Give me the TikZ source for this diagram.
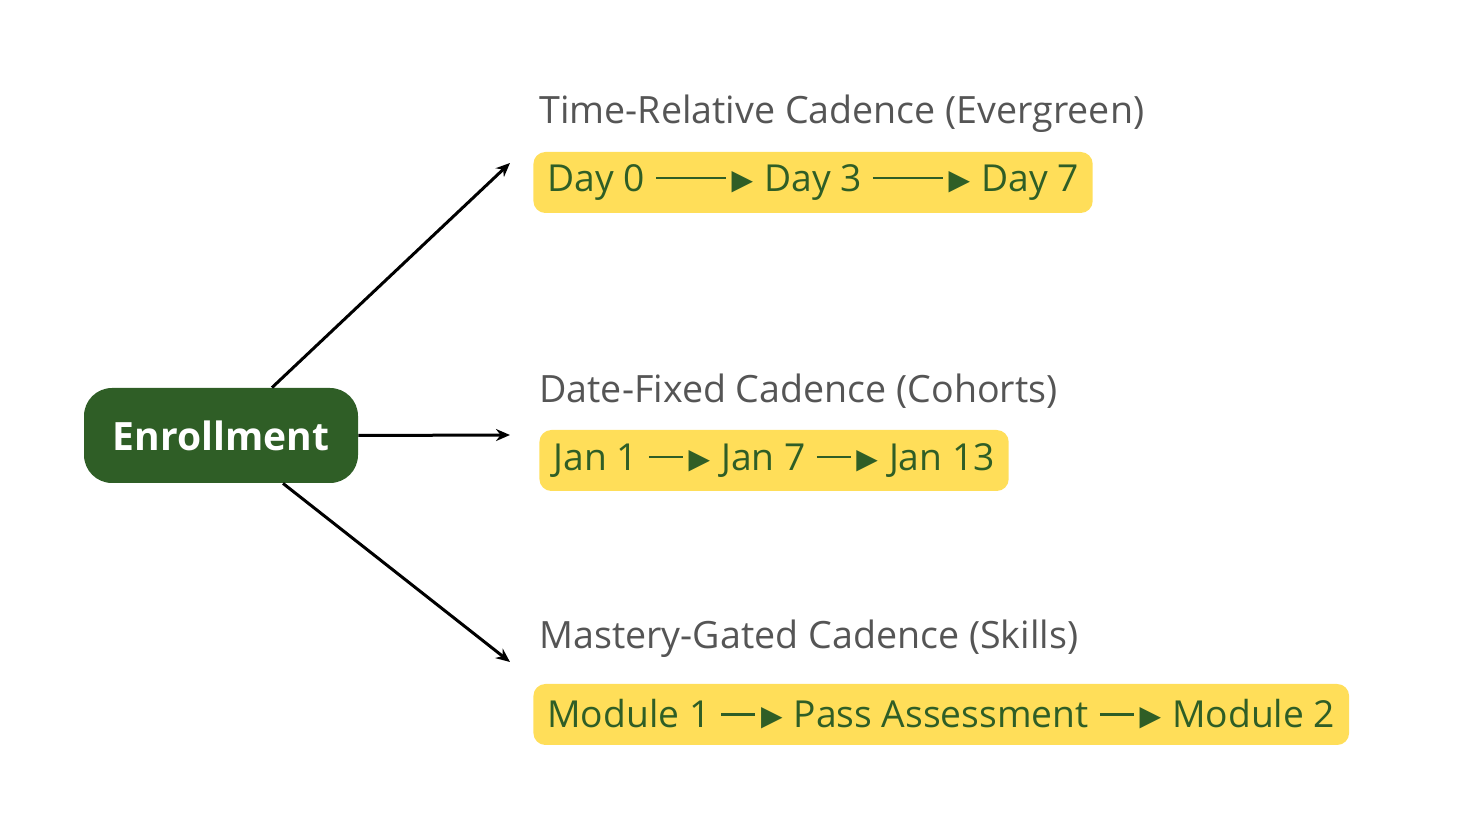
\documentclass[tikz,border=0pt]{standalone}
\usepackage{fontspec}
\usetikzlibrary{arrows.meta}
\setmainfont{Open Sans}
\newfontfamily\dej{DejaVu Sans}
\definecolor{dg}{HTML}{2F5E26}
\definecolor{yl}{HTML}{FFDE59}
\definecolor{tg}{HTML}{555555}
\newcommand\myarr[1]{\hspace{0.3em}\textcolor{dg}{\rule[0.33em]{#1}{0.06em}\hspace{0.15em}\raisebox{0.05em}{\dej\fontsize{14}{14}\selectfont ▶}}\hspace{0.3em}}
\begin{document}
\begin{tikzpicture}[x=0.5pt,y=-0.5pt,
  box/.style={fill=yl,rounded corners=6pt,anchor=west,minimum height=30.5pt,inner xsep=7pt,text=dg,font=\fontsize{18.6}{20}\selectfont},
  ttl/.style={anchor=west,text=tg,inner sep=0,font=\fontsize{18.8}{20}\selectfont},
  arr/.style={-{Stealth[length=7pt,width=6pt]},line width=1.5pt}]
\useasboundingbox (0,0) rectangle (1480,833);
\node[fill=dg,rounded corners=14pt,minimum width=137pt,minimum height=47.5pt,text=white,font=\bfseries\fontsize{19.5}{20}\selectfont] (en) at (221,435.5) {Enrollment};
\node[ttl] (t1) at (539,114) {Time-Relative Cadence (Evergreen)};
\node[ttl] (t2) at (539,391) {Date-Fixed Cadence (Cohorts)};
\node[ttl] (t3) at (539,639) {Mastery-Gated Cadence (Skills)};
\node[box] (b1) at (533,182.5) {Day 0\myarr{35pt}Day 3\myarr{35pt}Day 7};
\node[box] (b2) at (539,460.5) {Jan 1\myarr{17pt}Jan 7\myarr{17pt}Jan 13};
\node[box] (b3) at (533,714.5) {Module 1\myarr{17pt}Pass Assessment\myarr{17pt}Module 2};
\coordinate (e1) at (510,163);
\coordinate (e2) at (510,435);
\coordinate (e3) at (510,662);
\draw[arr] (en.north)++(51,0) -- (e1);
\draw[arr] (en.east) -- (e2);
\draw[arr] (en.south)++(62,0) -- (e3);
\end{tikzpicture}
\end{document}
